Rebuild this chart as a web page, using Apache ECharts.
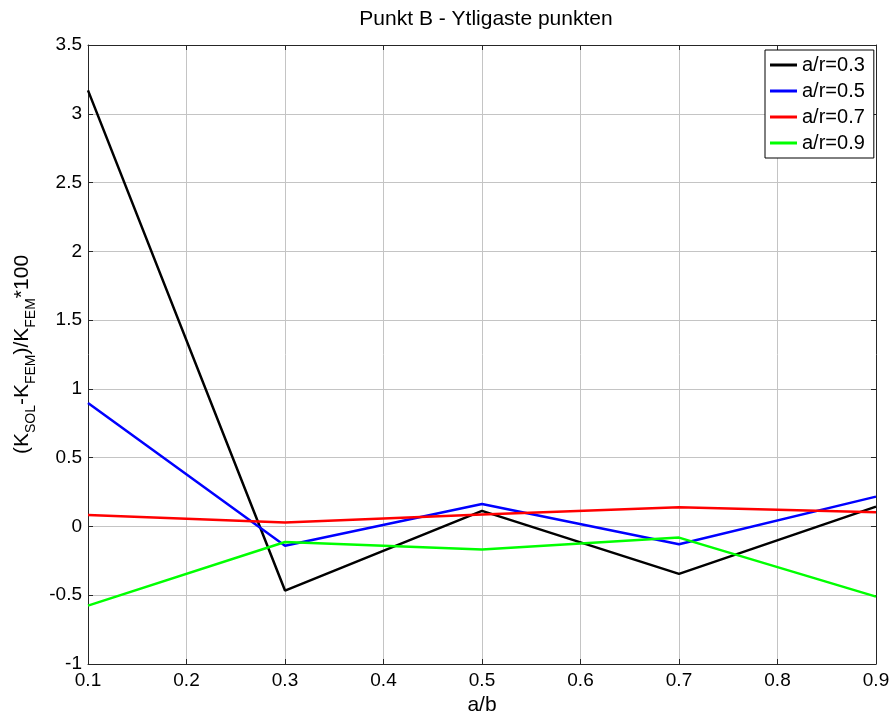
<!DOCTYPE html>
<html>
<head>
<meta charset="utf-8">
<script src="https://cdn.jsdelivr.net/npm/echarts@6/dist/echarts.min.js"></script>
<style>html,body{margin:0;padding:0;background:#fff}#c{width:895px;height:711px}</style>
</head>
<body>
<div id="c"></div>
<script>
const xValues = [0.1, 0.3, 0.5, 0.7, 0.9];
const seriesNames = ['a/r=0.3', 'a/r=0.5', 'a/r=0.7', 'a/r=0.9'];
const ar03 = [3.17, -0.466, 0.113, -0.345, 0.144];
const ar05 = [0.897, -0.14, 0.163, -0.13, 0.217];
const ar07 = [0.084, 0.028, 0.086, 0.14, 0.103];
const ar09 = [-0.576, -0.113, -0.168, -0.081, -0.51];
const colors = ['#000000', '#0000ff', '#ff0000', '#00ff00'];
const allData = [ar03, ar05, ar07, ar09];

const font = 'Arial, "Liberation Sans", sans-serif';
const axisCol = '#262626';
const chart = echarts.init(document.getElementById('c'));

const baseX = {
  type: 'value', min: 0.1, max: 0.9, interval: 0.1,
  axisLine: { show: true, onZero: false, lineStyle: { color: axisCol, width: 1 } },
  axisTick: { show: true, inside: true, length: 5, lineStyle: { color: axisCol } },
  splitLine: { show: false }
};
const baseY = {
  type: 'value', min: -1, max: 3.5, interval: 0.5,
  axisLine: { show: true, onZero: false, lineStyle: { color: axisCol, width: 1 } },
  axisTick: { show: true, inside: true, length: 5, lineStyle: { color: axisCol } },
  splitLine: { show: false }
};

chart.setOption({
  backgroundColor: '#ffffff',
  animation: false,
  title: {
    text: 'Punkt B - Ytligaste punkten',
    left: 481, top: 4, textAlign: 'center',
    textStyle: { fontFamily: font, fontSize: 21, fontWeight: 'normal', color: '#000' }
  },
  grid: { left: 88, right: 19, top: 45, bottom: 47, containLabel: false, outerBoundsMode: 'none' },
  legend: {
    data: seriesNames,
    orient: 'vertical',
    left: 765, top: 50,
    backgroundColor: '#ffffff',
    borderColor: '#000', borderWidth: 1,
    padding: [5, 9, 5, 5],
    itemGap: 6,
    itemWidth: 27, itemHeight: 3,
    icon: 'rect',
    textStyle: { fontFamily: font, fontSize: 20, lineHeight: 20, color: '#000' }
  },
  xAxis: [
    Object.assign({}, baseX, {
      position: 'bottom',
      name: 'a/b', nameLocation: 'middle', nameGap: 23,
      nameTextStyle: { fontFamily: font, fontSize: 21, color: '#000' },
      axisLabel: {
        fontFamily: font, fontSize: 19, color: '#000', margin: 7,
        formatter: v => Number(v.toFixed(1)).toString()
      },
      splitLine: { show: true, lineStyle: { color: '#c4c4c4', width: 1 } }
    }),
    Object.assign({}, baseX, { position: 'top', axisLabel: { show: false } })
  ],
  yAxis: [
    Object.assign({}, baseY, {
      position: 'left',
      name: '{n|(K}{s|SOL}{n|-K}{s|FEM}{n|)/K}{s|FEM}{n|*100}',
      nameLocation: 'middle', nameGap: 52,
      nameTextStyle: {
        fontFamily: font, fontSize: 21, color: '#000',
        rich: {
          n: { fontFamily: font, fontSize: 21, color: '#000', verticalAlign: 'bottom', lineHeight: 24 },
          s: { fontFamily: font, fontSize: 14, color: '#000', verticalAlign: 'bottom', lineHeight: 16, padding: [0, 0, -6, 0] }
        }
      },
      axisLabel: {
        fontFamily: font, fontSize: 19, color: '#000', margin: 6,
        formatter: v => Number(v.toFixed(1)).toString()
      },
      splitLine: { show: true, lineStyle: { color: '#c4c4c4', width: 1 } }
    }),
    Object.assign({}, baseY, { position: 'right', axisLabel: { show: false } })
  ],
  series: seriesNames.map((name, i) => ({
    name: name,
    type: 'line',
    xAxisIndex: 0, yAxisIndex: 0,
    data: xValues.map((x, j) => [x, allData[i][j]]),
    showSymbol: false,
    symbol: 'none',
    lineStyle: { color: colors[i], width: 2.5 },
    itemStyle: { color: colors[i] },
    z: 2 + i
  }))
});
</script>
</body>
</html>
